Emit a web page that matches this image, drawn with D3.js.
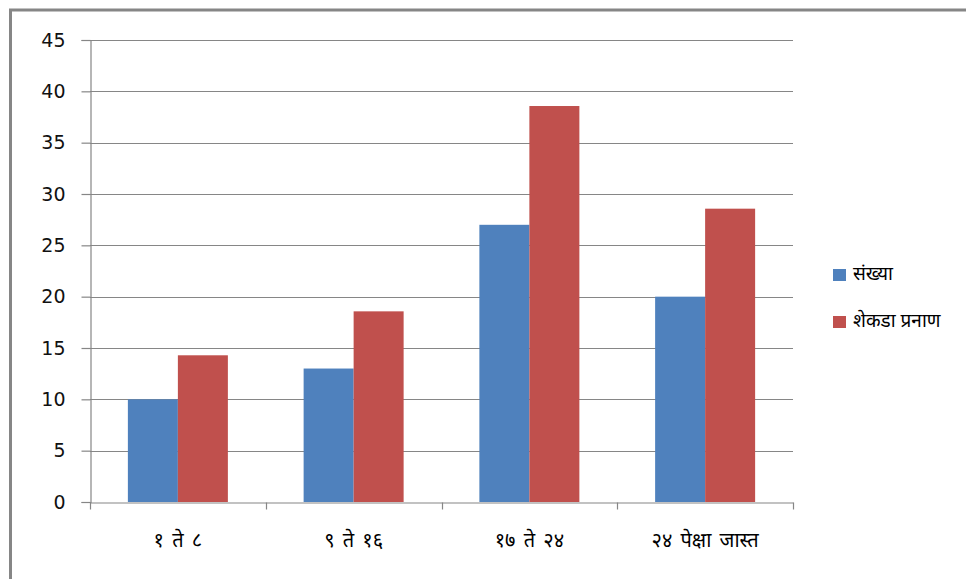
<!DOCTYPE html>
<html>
<head>
<meta charset="utf-8">
<script src="https://cdn.jsdelivr.net/npm/d3@7"></script>
<style>
  body { margin: 0; background: #fff; }
  svg { display: block; }
</style>
</head>
<body>
<script>
var categories = ['१ ते ८', '९ ते १६', '१७ ते २४', '२४ पेक्षा जास्त'];
var seriesNames = ['संख्या', 'शेकडा प्रनाण'];
var countValues = [10, 13, 27, 20];
var percentValues = [14.29, 18.57, 38.57, 28.57];
var yTicks = [0, 5, 10, 15, 20, 25, 30, 35, 40, 45];
var colors = ['#4f81bd', '#c0504d'];

var w = 966, h = 579;
var margin = {left: 90, right: 173, top: 40, bottom: 77};

var svg = d3.select('body')
  .append('svg')
  .attr('width', w)
  .attr('height', h);

// outer frame (left + top only)
svg.append('path')
  .attr('d', 'M10.5,579 V10 H966')
  .attr('fill', 'none')
  .attr('stroke', '#868686')
  .attr('stroke-width', 3);

var yScale = d3.scaleLinear()
  .domain([0, 45])
  .range([h - margin.bottom, margin.top]);

var xScale = d3.scaleBand()
  .domain(categories)
  .range([margin.left, w - margin.right]);

var inner = d3.scaleBand()
  .domain([0, 1])
  .range([0, 100]);

// gridlines
svg.append('g')
  .selectAll('line')
  .data(yTicks.filter(d => d > 0))
  .enter()
  .append('line')
    .attr('x1', margin.left)
    .attr('x2', w - margin.right)
    .attr('y1', d => Math.round(yScale(d)) + 0.5)
    .attr('y2', d => Math.round(yScale(d)) + 0.5)
    .attr('stroke', '#868686')
    .attr('stroke-width', 1.2);

// bars
var data = categories.map((c, i) => ({cat: c, vals: [countValues[i], percentValues[i]]}));

var groups = svg.selectAll('.grp')
  .data(data)
  .enter()
  .append('g')
    .attr('class', 'grp')
    .attr('transform', d => `translate(${xScale(d.cat) + (xScale.bandwidth() - 100) / 2},0)`);

groups.selectAll('rect')
  .data(d => d.vals)
  .enter()
  .append('rect')
    .attr('x', (d, i) => inner(i))
    .attr('width', inner.bandwidth())
    .attr('y', d => yScale(d))
    .attr('height', d => yScale(0) - yScale(d))
    .attr('fill', (d, i) => colors[i]);

// y axis
var yAxis = d3.axisLeft(yScale)
  .tickValues(yTicks)
  .tickSize(9)
  .tickPadding(16);

var gy = svg.append('g')
  .attr('transform', `translate(${margin.left + 0.5},0)`)
  .call(yAxis);
gy.select('.domain').attr('stroke', '#868686').attr('stroke-width', 1.2);
gy.selectAll('line').attr('stroke', '#868686').attr('stroke-width', 1.2);
gy.selectAll('text')
  .attr('fill', '#111')
  .style('font-family', '"DejaVu Sans", Verdana, sans-serif')
  .style('font-size', '19px');

// x axis
var xAxis = d3.axisBottom(xScale)
  .tickValues([])
  .tickSizeOuter(0);

var gx = svg.append('g')
  .attr('transform', `translate(0,${h - margin.bottom + 0.5})`)
  .call(xAxis);
gx.select('.domain').attr('stroke', '#868686').attr('stroke-width', 1.2);

// category boundary ticks
var bounds = [margin.left].concat(categories.map(c => xScale(c) + xScale.bandwidth()));
gx.selectAll('.bt')
  .data(bounds)
  .enter()
  .append('line')
    .attr('class', 'bt')
    .attr('x1', d => Math.round(d) + 0.5)
    .attr('x2', d => Math.round(d) + 0.5)
    .attr('y1', 0)
    .attr('y2', 7)
    .attr('stroke', '#868686')
    .attr('stroke-width', 1.2);

// category labels
gx.selectAll('.cl')
  .data(categories)
  .enter()
  .append('text')
    .attr('class', 'cl')
    .attr('x', d => xScale(d) + xScale.bandwidth() / 2)
    .attr('y', 44)
    .attr('text-anchor', 'middle')
    .attr('fill', '#000')
    .style('font-family', '"Noto Sans", "Noto Sans Devanagari", sans-serif')
    .style('font-size', '20px')
    .style('word-spacing', '3px')
    .text(d => d);

// legend
var legend = svg.append('g')
  .attr('transform', 'translate(833,269)');

var items = legend.selectAll('g')
  .data(seriesNames)
  .enter()
  .append('g')
    .attr('transform', (d, i) => `translate(0,${i * 47})`);

items.append('rect')
  .attr('width', 13)
  .attr('height', 12)
  .attr('fill', (d, i) => colors[i]);

items.append('text')
  .attr('x', 20)
  .attr('y', 11)
  .attr('fill', '#000')
  .style('font-family', '"Noto Sans", "Noto Sans Devanagari", sans-serif')
  .style('font-size', '19px')
  .text(d => d);
</script>
</body>
</html>
